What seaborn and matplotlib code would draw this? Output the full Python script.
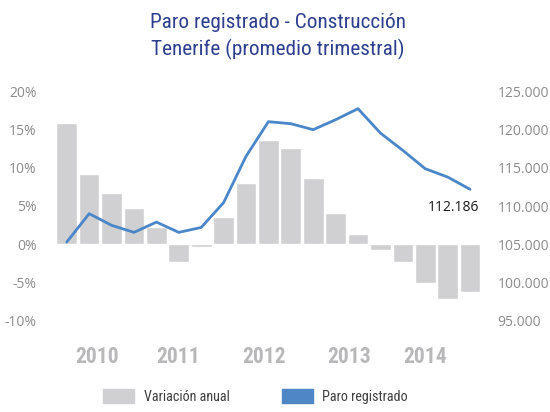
import matplotlib
matplotlib.use('Agg')
import matplotlib.pyplot as plt
import matplotlib.patches as mpatches
from matplotlib import font_manager
from matplotlib.font_manager import FontProperties
from matplotlib.ticker import FuncFormatter
import seaborn as sns
import pandas as pd

# quarterly data, 2010 Q1 - 2014 Q3
quarters = ['2010T1', '2010T2', '2010T3', '2010T4',
            '2011T1', '2011T2', '2011T3', '2011T4',
            '2012T1', '2012T2', '2012T3', '2012T4',
            '2013T1', '2013T2', '2013T3', '2013T4',
            '2014T1', '2014T2', '2014T3']
variacion = [15.8, 9.2, 6.7, 4.8, 2.3, -2.3, -0.4, 3.5, 8.0, 13.6,
             12.6, 8.6, 4.1, 1.3, -0.7, -2.3, -5.1, -7.2, -6.2]
paro = [105300, 109000, 107480, 106560, 107900, 106560, 107200, 110440,
        116480, 121000, 120740, 119960, 121260, 122700, 119520, 117260,
        114870, 113780, 112186]
years = ['2010', '2011', '2012', '2013', '2014']
year_pos = [1.35, 4.95, 8.8, 12.6, 16.0]

# pick a narrow font if one is around
names = {f.name for f in font_manager.fontManager.ttflist}
narrow = 'DejaVu Sans'
for cand in ['Liberation Sans Narrow', 'Roboto Condensed', 'DejaVu Sans Condensed']:
    if cand in names:
        narrow = cand
        break
plain = 'Open Sans' if 'Open Sans' in names else 'DejaVu Sans'

sns.set_style('white')
plt.rcParams['font.family'] = [plain, 'DejaVu Sans']


def nfont(size, weight='normal'):
    return FontProperties(family=narrow, size=size, weight=weight,
                          stretch='condensed')


df = pd.DataFrame({'trimestre': quarters, 'variacion': variacion,
                   'paro': paro, 'idx': range(len(quarters))})

fig = plt.figure(figsize=(5.5, 4.12), dpi=100)
ax = fig.add_axes([0.097, 0.221, 0.782, 0.558])

bar_color = '#D0D0D2'
line_color = '#4A86C8'
tick_color = '#8C8C8C'

sns.barplot(data=df, x='trimestre', y='variacion', order=quarters,
            color=bar_color, width=0.92, saturation=1, ax=ax)
ax.set_ylim(-10, 20)
ax.set_yticks([-10, -5, 0, 5, 10, 15, 20])
ax.yaxis.set_major_formatter(FuncFormatter(lambda v, p: f'{v:.0f}%'))
ax.set_xlim(-0.6, 18.6)
ax.set_xticks(year_pos)
ax.set_xticklabels(years, color='#B8B8BA', fontproperties=nfont(15.5, 'bold'))
ax.tick_params(axis='x', length=0, pad=18)
ax.tick_params(axis='y', length=0, pad=12, labelsize=10, labelcolor=tick_color)
ax.set_xlabel('')
ax.set_ylabel('')

ax2 = ax.twinx()
sns.lineplot(data=df, x='idx', y='paro', color=line_color, linewidth=2,
             ax=ax2)
ax2.set_ylim(95000, 125000)
ax2.set_yticks(range(95000, 125001, 5000))
ax2.yaxis.set_major_formatter(FuncFormatter(lambda v, p: f'{v:,.0f}'.replace(',', '.')))
ax2.tick_params(axis='y', length=0, pad=10, labelsize=10, labelcolor=tick_color)
ax2.set_ylabel('')
ax2.set_xlim(-0.6, 18.6)

last = paro[-1]
ax2.annotate(f'{last:,}'.replace(',', '.'), xy=(len(paro) - 1, last),
             xytext=(-12, -13), textcoords='offset points', ha='center',
             va='center', fontsize=10, color='#1A1A1A')

for a in (ax, ax2):
    for s in a.spines.values():
        s.set_visible(False)

title_color = '#2E3F8F'
fig.text(0.505, 0.945, 'Paro registrado - Construcción', ha='center',
         va='center', color=title_color, fontproperties=nfont(15.3))
fig.text(0.505, 0.881, 'Tenerife (promedio trimestral)', ha='center',
         va='center', color=title_color, fontproperties=nfont(15.3))

handles = [mpatches.Patch(color=bar_color, label='Variación anual'),
           mpatches.Patch(color='#4F86C6', label='Paro registrado')]
fig.legend(handles=handles, loc='lower center', ncol=2, frameon=False,
           bbox_to_anchor=(0.465, -0.012), handlelength=2.15, handleheight=1.15,
           columnspacing=3.7, handletextpad=0.7,
           prop=nfont(10.2), labelcolor='#404040')

fig.savefig('out.png', dpi=100)
